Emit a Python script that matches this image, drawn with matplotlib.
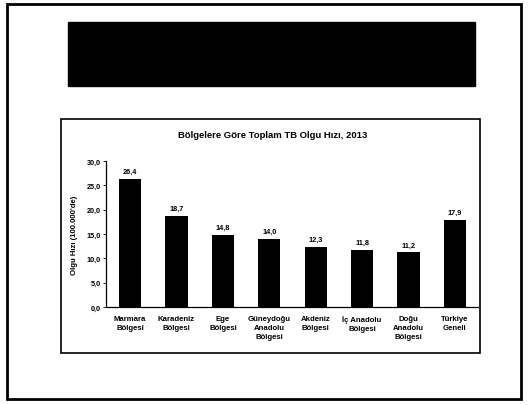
import matplotlib.pyplot as plt
from matplotlib.patches import Rectangle

plt.rcParams['font.family'] = ['Liberation Sans', 'DejaVu Sans']

# Data
regions = ["Marmara\nBölgesi", "Karadeniz\nBölgesi", "Ege\nBölgesi",
           "Güneydoğu\nAnadolu\nBölgesi", "Akdeniz\nBölgesi", "İç Anadolu\nBölgesi",
           "Doğu\nAnadolu\nBölgesi", "Türkiye\nGeneli"]
rates = [26.4, 18.7, 14.8, 14.0, 12.3, 11.8, 11.2, 17.9]
y_ticks = [0, 5, 10, 15, 20, 25, 30]

W, H = 529, 406
fig = plt.figure(figsize=(W / 100, H / 100), dpi=100)

def px_rect(x0, y0, x1, y1, **kw):
    # rectangle in pixel coords (origin top-left) -> figure fraction
    fig.patches.append(Rectangle((x0 / W, 1 - y1 / H), (x1 - x0) / W, (y1 - y0) / H,
                                 transform=fig.transFigure, **kw))

# slide frame, title bar and chart box
px_rect(7, 5, 521, 400, fill=False, edgecolor='black', linewidth=2)
px_rect(68, 23, 475, 87, facecolor='black', edgecolor='black')
px_rect(61, 120, 480, 354, fill=False, edgecolor='black', linewidth=1.2)

ax = fig.add_axes([106 / W, 1 - 308 / H, (478 - 106) / W, (308 - 162) / H])
x = range(len(rates))
bars = ax.bar(x, rates, width=0.48, color='black')

for xi, v in zip(x, rates):
    ax.text(xi, v + 0.8, f"{v:.1f}".replace('.', ','), ha='center', va='bottom',
            fontsize=5.3, fontweight='bold')

ax.set_xlim(-0.52, 7.5)
ax.set_ylim(0, 30)
ax.set_yticks(y_ticks)
ax.set_yticklabels([f"{t:.1f}".replace('.', ',') for t in y_ticks], fontsize=5.2, fontweight='bold')
ax.set_xticks(list(x))
ax.set_xticklabels(regions, fontsize=5.6, fontweight='bold', linespacing=1.35)
ax.tick_params(axis='x', length=0, pad=6)
ax.tick_params(axis='y', length=2, width=0.6, pad=2)
for s in ['top', 'right']:
    ax.spines[s].set_visible(False)
for s in ['left', 'bottom']:
    ax.spines[s].set_linewidth(0.9)

ax.set_ylabel("Olgu Hızı (100.000'de)", fontsize=5.6, fontweight='bold', labelpad=6)

fig.text(273 / W, 1 - 135 / H, "Bölgelere Göre Toplam TB Olgu Hızı, 2013",
         ha='center', va='center', fontsize=6.8, fontweight='bold')

fig.savefig('out.png', dpi=100)
